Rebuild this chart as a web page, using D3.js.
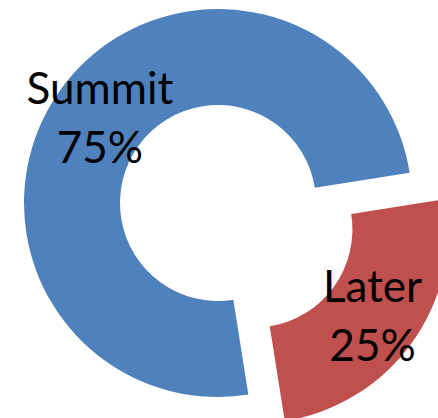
<!DOCTYPE html>
<html><head><meta charset="utf-8">
<script src="https://cdn.jsdelivr.net/npm/d3@7"></script>
<style>html,body{margin:0;padding:0;background:#fff;overflow:hidden}</style>
</head><body>
<svg id="chart" width="438" height="418"></svg>
<script>
const categories = ["Summit", "Later"];
const values = [75, 25];
const percentLabels = ["75%", "25%"];
const colors = ["#4F81BD", "#C0504D"];
const exploded = [0, 1];

const svg = d3.select("#chart");
const cx = 218, cy = 203, outerR = 194, innerR = 98, explode = 45;
const startDeg = 171;

const pie = d3.pie().sort(null).value(d => d)
  .startAngle(startDeg * Math.PI / 180)
  .endAngle(startDeg * Math.PI / 180 + 2 * Math.PI);
const arcs = pie(values);
const arc = d3.arc().innerRadius(innerR).outerRadius(outerR);

const g = svg.append("g").attr("transform", `translate(${cx},${cy})`);

const slices = g.selectAll("g.slice").data(arcs).enter().append("g")
  .attr("class", "slice")
  .attr("transform", (d, i) => {
    const mid = (d.startAngle + d.endAngle) / 2;
    const e = exploded[i] * explode;
    return `translate(${e * Math.sin(mid)},${-e * Math.cos(mid)})`;
  });

slices.append("path").attr("d", arc).attr("fill", (d, i) => colors[i]);

const labels = slices.append("text")
  .attr("text-anchor", "middle")
  .attr("font-family", "Lato, 'Noto Sans', sans-serif")
  .attr("font-size", 44)
  .attr("fill", "#000")
  .attr("transform", d => { const c = arc.centroid(d); return `translate(${c[0]},${c[1]})`; });
labels.append("tspan").attr("x", 0).attr("y", -13).text((d, i) => categories[i]);
labels.append("tspan").attr("x", 0).attr("y", 46).text((d, i) => percentLabels[i]);
</script>
</body></html>
